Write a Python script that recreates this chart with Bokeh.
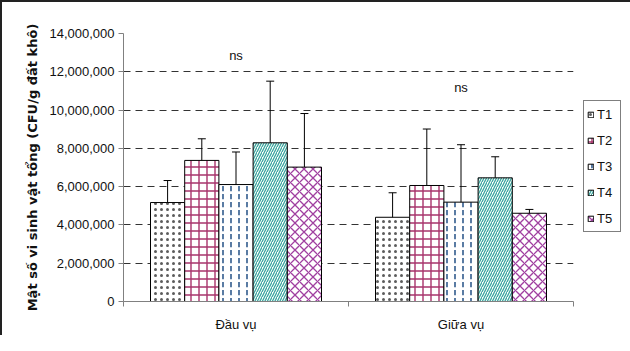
import numpy as np
from bokeh.plotting import figure
from bokeh.models import (Range1d, FixedTicker, NumeralTickFormatter, Whisker, TeeHead,
                          ColumnDataSource, Legend, LegendItem, InlineStyleSheet)
from bokeh.embed import file_html
from bokeh.resources import INLINE
from bokeh.core.properties import value

# ---------------- data ----------------
categories = ["Đầu vụ", "Giữa vụ"]
treatments = ["T1", "T2", "T3", "T4", "T5"]

t1_mean = [5170000, 4400000]
t2_mean = [7370000, 6060000]
t3_mean = [6110000, 5190000]
t4_mean = [8290000, 6460000]
t5_mean = [7020000, 4610000]

t1_err = [1150000, 1280000]
t2_err = [1130000, 2950000]
t3_err = [1700000, 3000000]
t4_err = [3220000, 1100000]
t5_err = [2800000, 200000]

sig_labels = ["ns", "ns"]
sig_y = [12850000, 11180000]

y_ticks = [0, 2000000, 4000000, 6000000, 8000000, 10000000, 12000000, 14000000]
y_title = "Mật số vi sinh vật tổng (CFU/g đất khô)"

# ---------------- styles ----------------
FONT = "Liberation Sans"
bar_width = 0.152

styles = [
    dict(hatch_pattern="dot", hatch_color="#333333", hatch_scale=6, hatch_weight=0.5, hatch_alpha=0.8),
    dict(hatch_pattern="cross", hatch_color="#a8336c", hatch_scale=8, hatch_weight=1.4),
    dict(hatch_pattern="vertical_dash", hatch_color="#2f5a8c", hatch_scale=8, hatch_weight=1.6),
    dict(hatch_pattern="right_diagonal_line", hatch_color="#3aa69e", hatch_scale=5, hatch_weight=1.3),
    dict(hatch_pattern="diagonal_cross", hatch_color="#a040a0", hatch_scale=9, hatch_weight=1.3),
]

means = [t1_mean, t2_mean, t3_mean, t4_mean, t5_mean]
errs = [t1_err, t2_err, t3_err, t4_err, t5_err]

p = figure(output_backend="svg", toolbar_location=None,
           frame_width=450, frame_height=268,
           min_border_left=121, min_border_right=41, min_border_top=31, min_border_bottom=34,
           x_range=Range1d(0, 2), y_range=Range1d(0, 14000000))
p.stylesheets = [InlineStyleSheet(css=":host { border-left: 2px solid #222222; border-top: 2px solid #222222; }")]
p.outline_line_color = None
p.background_fill_color = "white"
p.border_fill_color = "white"

items = []
base_x = np.arange(len(categories)) + 0.5
for i, name in enumerate(treatments):
    xs = base_x + (i - 2) * bar_width
    src = ColumnDataSource(dict(x=xs, top=means[i],
                                upper=np.array(means[i]) + np.array(errs[i]),
                                lower=np.array(means[i]) - np.array(errs[i])))
    r = p.vbar(x="x", top="top", width=bar_width, source=src,
               fill_color="white", line_color="black", line_width=1, **styles[i])
    items.append(LegendItem(label=name, renderers=[r]))
    w = Whisker(base="x", upper="upper", lower="lower", source=src,
                line_color="black", line_width=1,
                upper_head=TeeHead(size=8, line_color="black", line_width=1),
                lower_head=TeeHead(size=8, line_color="black", line_width=1))
    p.add_layout(w)

p.text(x=base_x, y=sig_y, text=sig_labels, text_align="center", text_baseline="middle",
       text_font=value(FONT), text_font_size="13px", text_color="#111111")

# y axis
yax = p.yaxis[0]
yax.ticker = FixedTicker(ticks=y_ticks)
yax.formatter = NumeralTickFormatter(format="0,0")
yax.major_label_text_font = FONT
yax.major_label_text_font_size = "13px"
yax.major_label_text_color = "#111111"
yax.major_tick_in = 0
yax.major_tick_out = 5
yax.minor_tick_in = 0
yax.minor_tick_out = 0
yax.major_label_standoff = 4
yax.axis_line_color = "#808080"
yax.major_tick_line_color = "#808080"
yax.axis_label = y_title
yax.axis_label_text_font = "DejaVu Sans"
yax.axis_label_text_font_style = "bold"
yax.axis_label_text_font_size = "13px"
yax.axis_label_text_color = "#111111"
yax.axis_label_standoff = 6

# x axis
xax = p.xaxis[0]
xax.ticker = FixedTicker(ticks=list(base_x), minor_ticks=[0, 1, 2])
xax.major_label_overrides = {float(b): c for b, c in zip(base_x, categories)}
xax.major_label_text_font = FONT
xax.major_label_text_font_size = "13px"
xax.major_label_text_color = "#111111"
xax.major_tick_in = 0
xax.major_tick_out = 0
xax.minor_tick_in = 0
xax.minor_tick_out = 5
xax.minor_tick_line_color = "#808080"
xax.axis_line_color = "#808080"
xax.major_label_standoff = 10

p.xgrid.grid_line_color = None
p.ygrid.grid_line_color = "#333333"
p.ygrid.grid_line_dash = "7 5"
p.ygrid.grid_line_width = 1

legend = Legend(items=items, location=(10, 69),
                glyph_width=7, glyph_height=7, label_height=20, spacing=6,
                padding=3, margin=0, label_standoff=3,
                border_line_color="black", border_line_width=1,
                background_fill_color="white", background_fill_alpha=1,
                label_text_font=FONT, label_text_font_size="13px", label_text_color="#111111")
p.add_layout(legend, "right")

open("out.html", "w").write(file_html(p, INLINE))
